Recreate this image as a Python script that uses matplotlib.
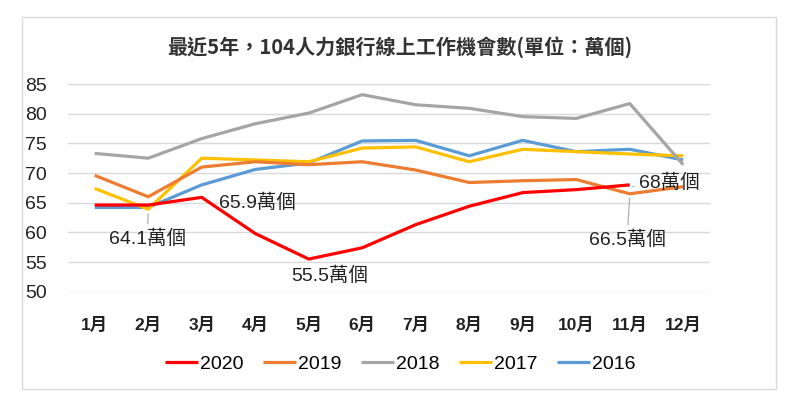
import matplotlib
matplotlib.use("Agg")
import matplotlib.pyplot as plt
from matplotlib.patches import Rectangle

# 104人力銀行 線上工作機會數 (萬個)
months = ["1月", "2月", "3月", "4月", "5月", "6月", "7月", "8月", "9月", "10月", "11月", "12月"]
y2020 = [64.6, 64.6, 65.9, 59.8, 55.5, 57.4, 61.3, 64.4, 66.7, 67.2, 68.0]
y2019 = [69.6, 66.0, 71.0, 71.9, 71.4, 71.9, 70.5, 68.4, 68.7, 68.9, 66.5, 67.7]
y2018 = [73.3, 72.5, 75.8, 78.3, 80.1, 83.2, 81.5, 80.9, 79.5, 79.2, 81.7, 71.4]
y2017 = [67.4, 63.9, 72.5, 72.2, 71.9, 74.2, 74.4, 71.9, 74.0, 73.6, 73.2, 72.9]
y2016 = [64.2, 64.2, 68.0, 70.6, 71.7, 75.4, 75.5, 72.9, 75.5, 73.6, 74.0, 72.2]
series = [("2020", y2020, "#FF0000"), ("2019", y2019, "#ED7D31"),
          ("2018", y2018, "#A5A5A5"), ("2017", y2017, "#FFC000"),
          ("2016", y2016, "#5B9BD5")]
yticks = [50, 55, 60, 65, 70, 75, 80, 85]

fonts = ["Liberation Sans", "Noto Sans CJK TC", "DejaVu Sans"]
plt.rcParams["font.family"] = fonts

fig = plt.figure(figsize=(8, 4.15), dpi=100)
fig.patches.append(Rectangle((22 / 800, 1 - 389 / 415), 754 / 800, 372 / 415,
                             transform=fig.transFigure, fill=False,
                             edgecolor="#D9D9D9", linewidth=1))
ax = fig.add_axes([68 / 800, 1 - 291.7 / 415, 642 / 800, 207.7 / 415])

x = list(range(len(months)))
for name, vals, col in reversed(series):
    ax.plot(x[:len(vals)], vals, color=col, linewidth=2.3, label=name,
            solid_capstyle="butt", clip_on=False)

ax.set_xlim(-0.5, 11.5)
ax.set_ylim(50, 85)
ax.set_yticks(yticks)
ax.set_xticks(x)
ax.set_xticklabels(months, fontsize=12.5, fontweight="bold", color="#222222")
ax.tick_params(axis="y", length=0, pad=15, labelsize=14, labelcolor="#222222")
ax.tick_params(axis="x", length=0, pad=18)
ax.grid(axis="y", color="#D9D9D9", linewidth=1)
ax.set_axisbelow(True)
for s in ax.spines.values():
    s.set_visible(False)

fig.text(0.5, 1 - 47 / 415, "最近5年，104人力銀行線上工作機會數(單位：萬個)",
         ha="center", va="center", fontsize=14.5, fontweight="bold",
         color="#333333", family=["Noto Sans CJK TC", "DejaVu Sans"])

# data labels
lab = dict(fontsize=14, color="#222222", ha="center", va="center")
line = dict(arrowstyle="-", color="#A5A5A5", lw=0.8)
ax.annotate("64.1萬個", xy=(1, 63.6), xytext=(0.98, 59.0), arrowprops=line, **lab)
ax.text(3.05, 64.9, "65.9萬個", **lab)
ax.text(4.4, 52.7, "55.5萬個", **lab)
ax.annotate("68萬個", xy=(10.05, 67.7), xytext=(10.75, 68.3),
            arrowprops=line, **lab)
ax.annotate("66.5萬個", xy=(10, 66.2), xytext=(9.95, 58.8),
            arrowprops=line, **lab)

handles, labels = ax.get_legend_handles_labels()
fig.legend(handles[::-1], labels[::-1], loc="center", ncol=5,
           bbox_to_anchor=(0.5, 1 - 364 / 415), frameon=False,
           fontsize=14, handlelength=1.7, handletextpad=0.1,
           columnspacing=1.0)

fig.savefig("out.png", dpi=100, facecolor="white")
